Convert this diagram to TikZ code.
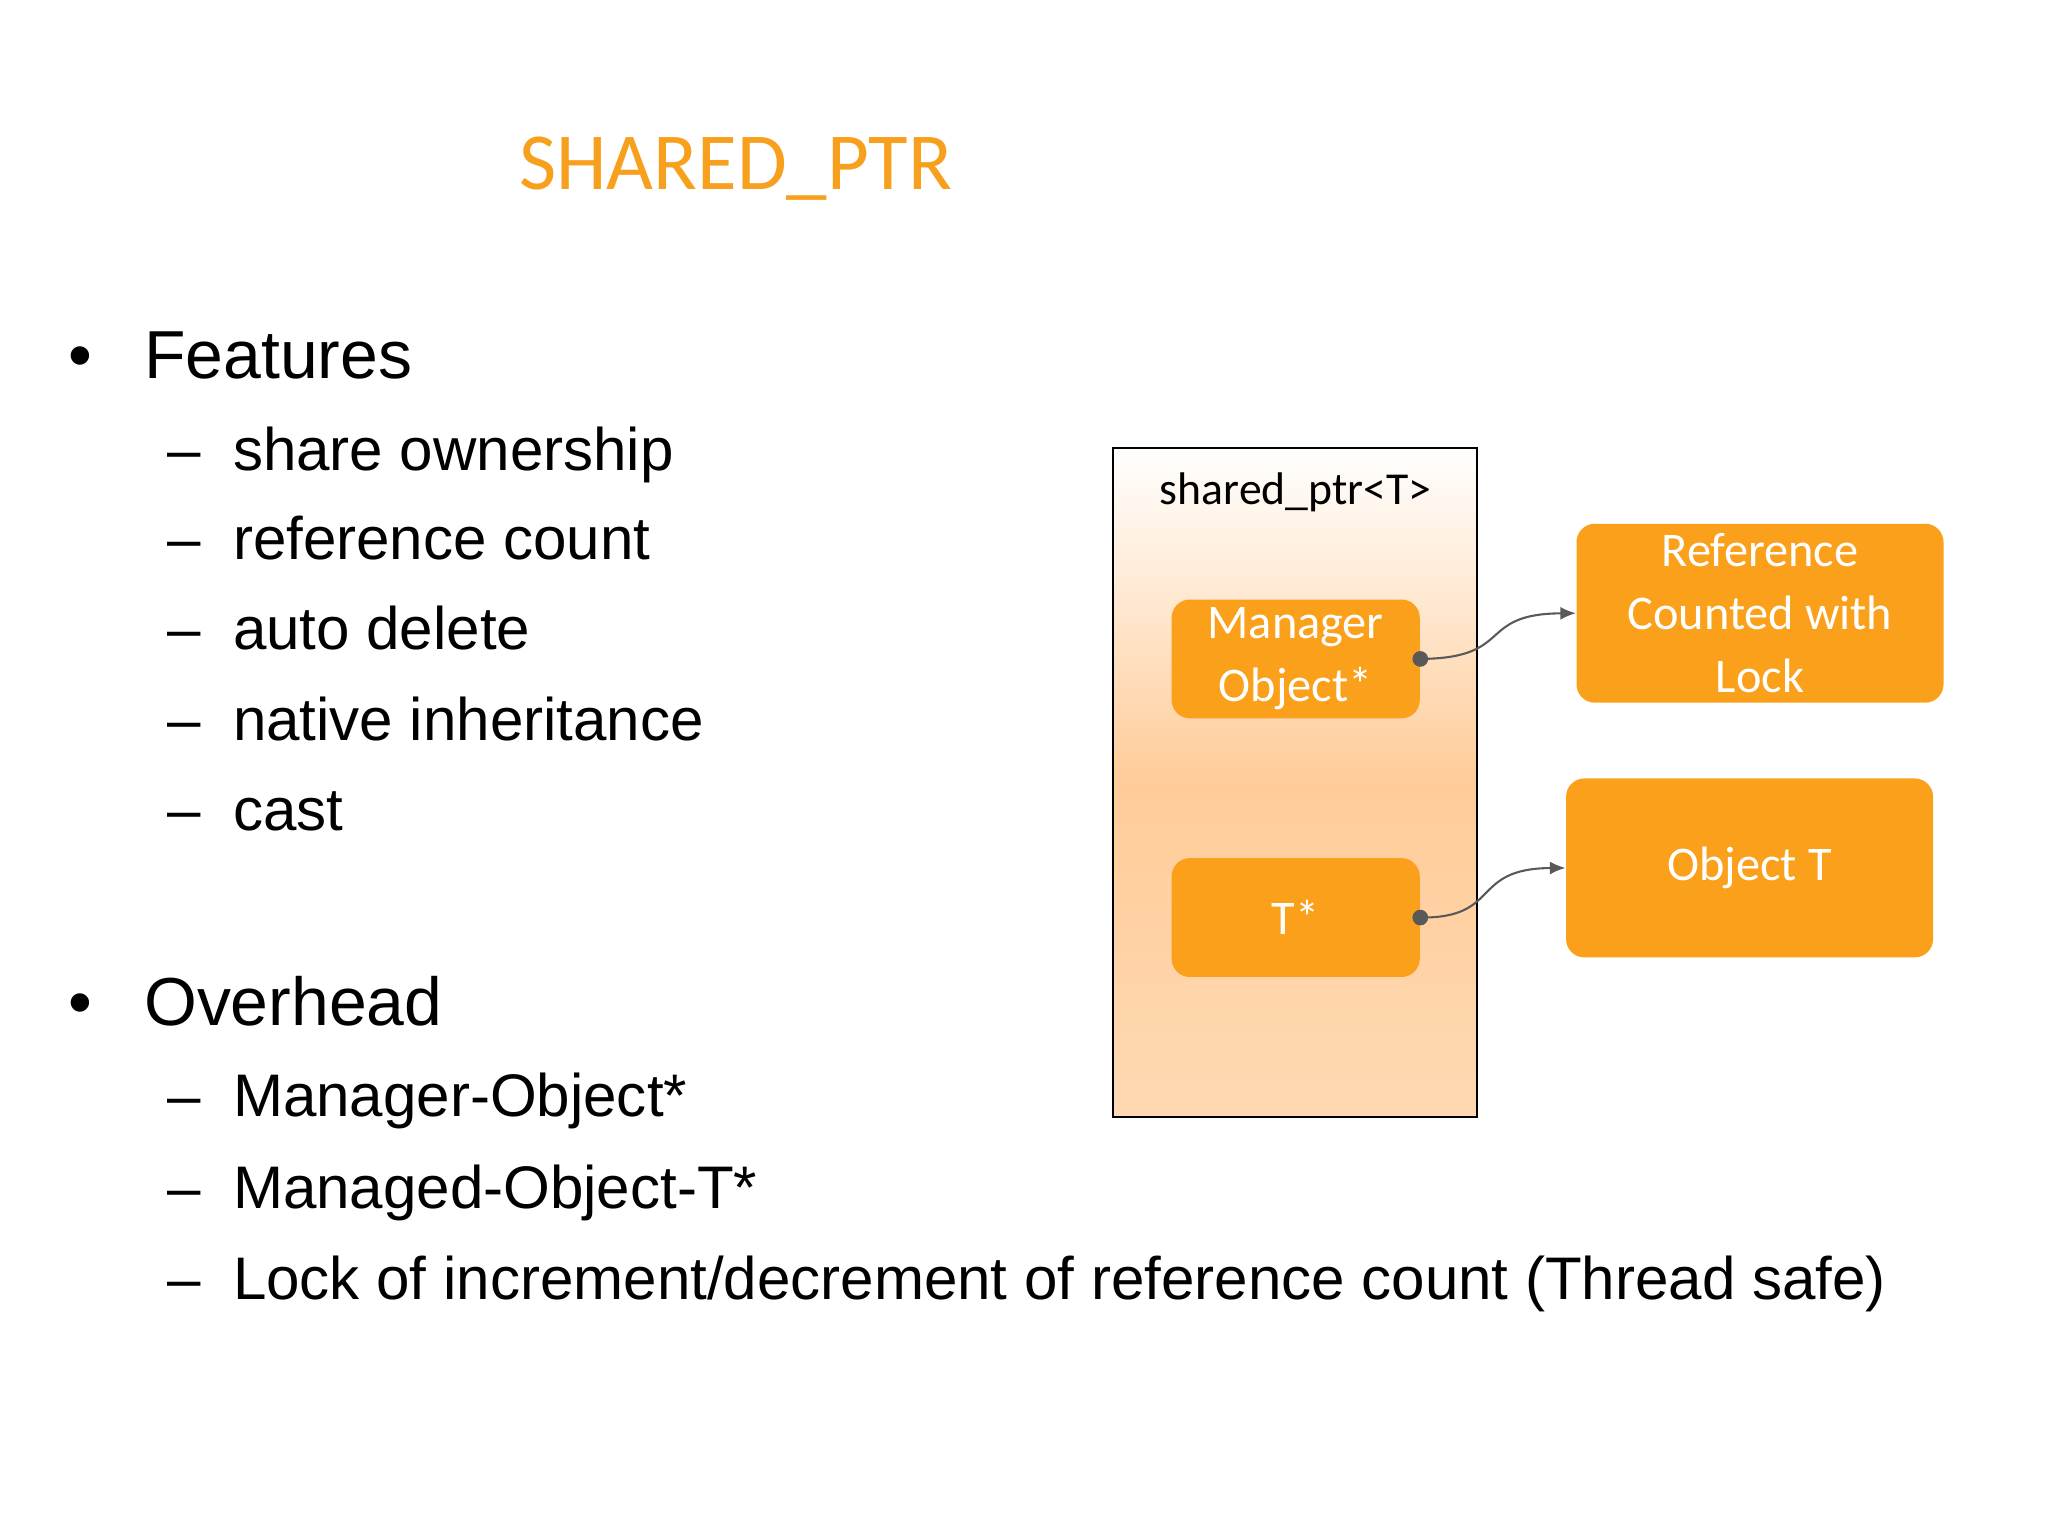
\documentclass[tikz,border=0pt]{standalone}
\usepackage{fontspec}
\setmainfont{Liberation Sans}
\newfontfamily\calfont{Carlito}
\usetikzlibrary{arrows.meta}
\definecolor{org}{RGB}{250,160,26}
\definecolor{ttl}{RGB}{247,160,30}
\begin{document}
\begin{tikzpicture}[x=0.5pt,y=-0.5pt,
  txt/.style={anchor=base west,inner sep=0,font=\fontsize{23}{27}\selectfont},
  big/.style={anchor=base west,inner sep=0,font=\fontsize{26}{30}\selectfont},
  obox/.style={draw=none,fill=org,rounded corners=7pt,text=white,align=center,font=\calfont\fontsize{18.5}{24}\selectfont,inner sep=0},
  conn/.style={draw=black!65,line width=0.8pt,-{Latex[length=6pt,width=5pt]}}]
\useasboundingbox (0,0) rectangle (1568,1176);
\node[anchor=base west,inner sep=0,text=ttl,font=\calfont\fontsize{31}{36}\selectfont] (title) at (397,145) {SHARED\_PTR};
\node[big] (b1) at (52,290) {•};
\node[big] (f) at (110,290) {Features};
\node[txt] (da) at (128,360) {–}; \node[txt] (ta) at (178,360) {share ownership};
\node[txt] (db) at (128,428) {–}; \node[txt] (tb) at (178,428) {reference count};
\node[txt] (dc) at (128,497) {–}; \node[txt] (tc) at (178,497) {auto delete};
\node[txt] (dd) at (128,567) {–}; \node[txt] (td) at (178,567) {native inheritance};
\node[txt] (de) at (128,636) {–}; \node[txt] (te) at (178,636) {cast};
\node[big] (b2) at (52,785) {•};
\node[big] (o) at (110,785) {Overhead};
\node[txt] (df) at (128,855) {–}; \node[txt] (tf) at (178,855) {Manager-Object*};
\node[txt] (dg) at (128,925) {–}; \node[txt] (tg) at (178,925) {Managed-Object-T*};
\node[txt] (dh) at (128,995) {–}; \node[txt] (th) at (178,995) {Lock of increment/decrement of reference count (Thread safe)};
\shade[top color=white, bottom color=orange!30!white, middle color=orange!40!white] (852,343) rectangle (1131,855);
\draw[line width=0.8pt] (852,343) rectangle (1131,855);
\node[inner sep=0,font=\calfont\fontsize{17.5}{22}\selectfont] (sp) at (992,377) {shared\_ptr<T>};
\node[obox,minimum width=95pt,minimum height=45.5pt] (mgr) at (992,504.5) {Manager\\Object*};
\node[obox,minimum width=95pt,minimum height=45.5pt] (tp) at (992,702.5) {T*};
\node[obox,minimum width=140.5pt,minimum height=68.5pt] (ref) at (1347.5,469.5) {Reference\\Counted with\\Lock};
\node[obox,minimum width=140.5pt,minimum height=68.5pt] (obj) at (1339.5,664.5) {Object T};
\fill[black!65] (mgr.east) circle (3pt);
\fill[black!65] (tp.east) circle (3pt);
\draw[conn] (mgr.east) .. controls (1160,504) and (1130,470) .. (ref.west);
\draw[conn] (tp.east) .. controls (1150,703) and (1125,665) .. (obj.west);
\end{tikzpicture}
\end{document}
